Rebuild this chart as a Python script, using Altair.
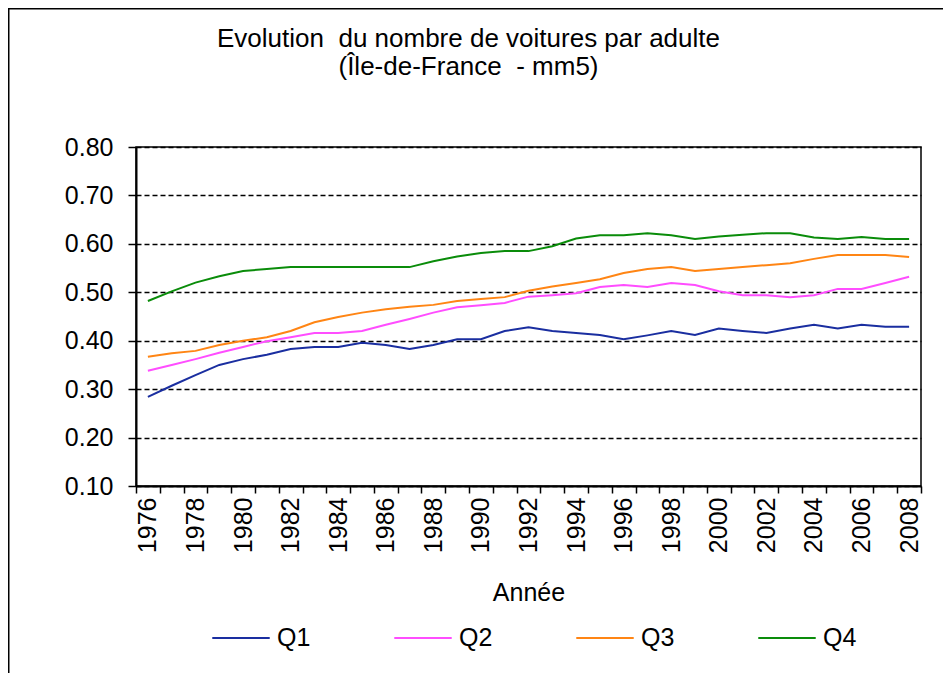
import altair as alt
import pandas as pd

years = list(range(1976, 2009))
series_names = ["Q1", "Q2", "Q3", "Q4"]
series_colors = ["#1a2ea0", "#ff4dff", "#ff8514", "#0a8c0a"]

q1 = [0.284, 0.307, 0.329, 0.350, 0.362, 0.371, 0.383, 0.387, 0.387, 0.396, 0.391,
      0.383, 0.391, 0.403, 0.403, 0.420, 0.428,
      0.420, 0.416, 0.412, 0.403, 0.411, 0.420, 0.412, 0.425, 0.420, 0.416, 0.425,
      0.433, 0.425, 0.433, 0.429, 0.429]
q2 = [0.338, 0.350, 0.362, 0.375, 0.387, 0.399, 0.407, 0.416, 0.416, 0.420, 0.433,
      0.445, 0.458, 0.469, 0.473, 0.478, 0.491,
      0.494, 0.498, 0.511, 0.515, 0.511, 0.519, 0.515, 0.502, 0.494, 0.494, 0.490,
      0.494, 0.507, 0.507, 0.519, 0.532]
q3 = [0.367, 0.374, 0.379, 0.391, 0.400, 0.407, 0.420, 0.438, 0.449, 0.458, 0.465,
      0.470, 0.474, 0.482, 0.486, 0.490, 0.503,
      0.512, 0.519, 0.527, 0.540, 0.548, 0.552, 0.544, 0.548, 0.552, 0.556, 0.560,
      0.569, 0.577, 0.577, 0.577, 0.573]
q4 = [0.482, 0.502, 0.520, 0.533, 0.544, 0.548, 0.552, 0.552, 0.552, 0.552, 0.552,
      0.552, 0.564, 0.574, 0.581, 0.585, 0.585,
      0.595, 0.611, 0.618, 0.618, 0.622, 0.618, 0.610, 0.615, 0.619, 0.622, 0.622,
      0.613, 0.610, 0.614, 0.610, 0.610]

y_ticks = [0.1, 0.2, 0.3, 0.4, 0.5, 0.6, 0.7, 0.8]
title_lines = ["Evolution\u00a0 du nombre de voitures par adulte",
               "(Île-de-France\u00a0 - mm5)"]

rows = []
for name, vals in zip(series_names, [q1, q2, q3, q4]):
    for yr, v in zip(years, vals):
        rows.append({"year": yr, "serie": name, "value": v})
df = pd.DataFrame(rows)

FONT = "Liberation Sans"
W, H = 785, 339
PAD = {"left": 128, "top": 139, "right": 22, "bottom": 187}

lines = alt.Chart(df).mark_line(strokeWidth=2).encode(
    x=alt.X(
        "year:O",
        bandPosition=0.5,
        scale=alt.Scale(type="band", paddingInner=0, paddingOuter=0),
        axis=alt.Axis(
            title="Année",
            titleFontSize=25,
            titleFontWeight="normal",
            titleFont=FONT,
            titleColor="black",
            titlePadding=28,
            labelAngle=270,
            labelFontSize=25,
            labelFont=FONT,
            labelColor="black",
            labelPadding=4,
            labelOverlap=False,
            labelExpr="toNumber(datum.value) % 2 == 0 ? datum.label : ''",
            tickBand="extent",
            tickSize=7,
            tickColor="black",
            tickWidth=1.5,
            domainColor="black",
            domainWidth=2,
            grid=False,
        ),
    ),
    y=alt.Y(
        "value:Q",
        scale=alt.Scale(domain=[0.1, 0.8], nice=False, zero=False),
        axis=alt.Axis(
            title=None,
            values=y_ticks,
            format=".2f",
            labelFontSize=25,
            labelFont=FONT,
            labelColor="black",
            labelPadding=15,
            tickSize=8,
            tickColor="black",
            tickWidth=1.5,
            domainColor="black",
            domainWidth=2,
            grid=True,
            gridColor="black",
            gridDash=[5, 3],
            gridWidth=1.5,
        ),
    ),
    color=alt.Color(
        "serie:N",
        scale=alt.Scale(domain=series_names, range=series_colors),
        legend=alt.Legend(
            title=None,
            orient="none",
            legendX=75,
            legendY=461,
            direction="horizontal",
            symbolType="stroke",
            symbolSize=3300,
            symbolStrokeWidth=2,
            labelFontSize=25,
            labelFont=FONT,
            labelColor="black",
            labelOffset=6,
            columnPadding=79,
            padding=0,
        ),
    ),
)

frame = alt.Chart(pd.DataFrame({"k": [0]})).mark_rect(
    fill="white", fillOpacity=0, stroke="black", strokeWidth=2
).encode(
    x=alt.value(-127.5),
    y=alt.value(-138.5),
    x2=alt.value(W + 60),
    y2=alt.value(H + 260),
)

chart = alt.layer(frame, lines).properties(
    width=W,
    height=H,
    autosize=alt.AutoSizeParams(type="none"),
    padding=PAD,
    background="white",
    title=alt.TitleParams(
        text=title_lines,
        fontSize=26,
        font=FONT,
        fontWeight="normal",
        color="black",
        anchor="middle",
        dx=-60,
        dy=72,
        offset=0,
    ),
).configure_view(stroke="black", strokeWidth=1.5)

chart.save("out.html", embed_options={"renderer": "svg", "actions": False})
